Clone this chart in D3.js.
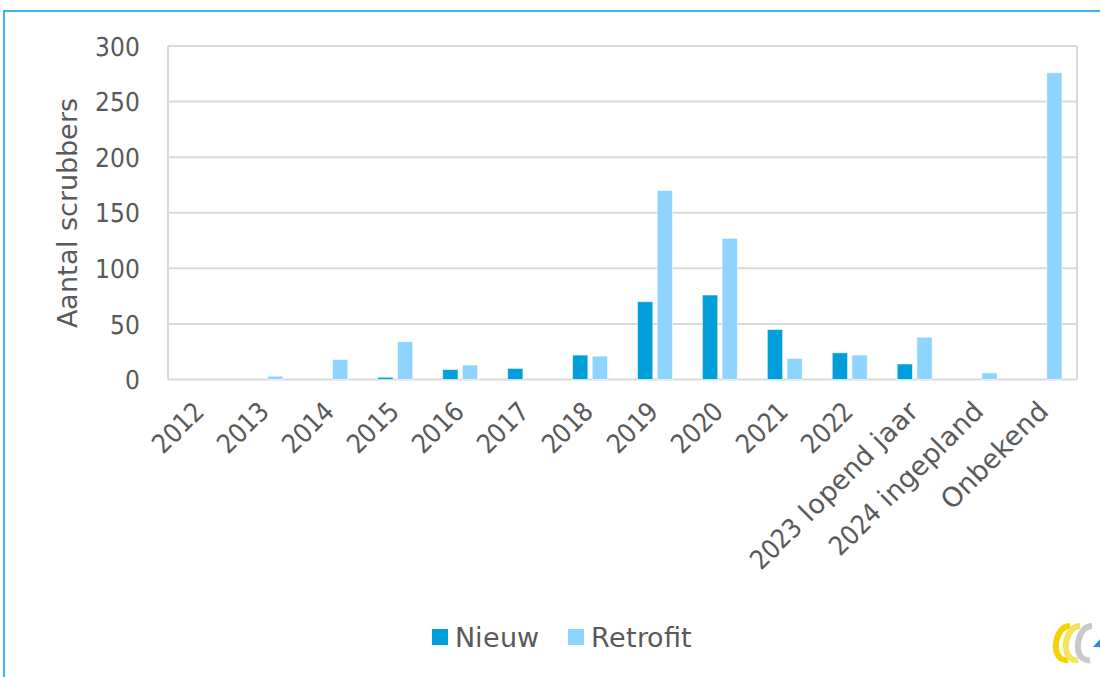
<!DOCTYPE html>
<html>
<head>
<meta charset="utf-8">
<script src="https://cdn.jsdelivr.net/npm/d3@7"></script>
<style>
  /* Tahoma-like mix: wide letters, narrow digits (later face wins for digits) */
  @font-face {
    font-family: 'ChartMix';
    src: local('DejaVu Sans'), local('DejaVuSans');
  }
  @font-face {
    font-family: 'ChartMix';
    src: local('DejaVu Sans Condensed'), local('DejaVuSansCondensed');
    unicode-range: U+0030-0039;
    size-adjust: 98%;
  }
  html, body { margin: 0; padding: 0; background: #fff; }
  svg { display: block; font-family: 'ChartMix', 'DejaVu Sans', sans-serif; }
</style>
</head>
<body>
<div id="chart"></div>
<script>
const categories = ['2012', '2013', '2014', '2015', '2016', '2017', '2018', '2019',
  '2020', '2021', '2022', '2023 lopend jaar', '2024 ingepland', 'Onbekend'];
const nieuw = [0, 0, 0, 2, 9, 10, 22, 70, 76, 45, 24, 14, 0, 0];
const retrofit = [0, 3, 18, 34, 13, 0, 21, 170, 127, 19, 22, 38, 6, 276];
const seriesNames = ['Nieuw', 'Retrofit'];
const yTicks = [0, 50, 100, 150, 200, 250, 300];

const colors = { Nieuw: '#009fda', Retrofit: '#8fd3ff' };
const textColor = '#595959';
const gridColor = '#d9d9d9';

const width = 1100;
const height = 677;
const plot = { left: 168, right: 1077, top: 46, bottom: 379.5 };

const svg = d3.select('#chart')
  .append('svg')
  .attr('width', width)
  .attr('height', height);

// outer blue frame (chart is cropped on the right/bottom)
svg.append('path')
  .attr('d', `M4,${height} L4,11 L${width},11`)
  .attr('fill', 'none')
  .attr('stroke', '#00a0e3')
  .attr('stroke-width', 1.5);

const x = d3.scaleBand()
  .domain(categories)
  .range([plot.left, plot.right]);

const y = d3.scaleLinear()
  .domain([0, 300])
  .range([plot.bottom, plot.top]);

const x1 = d3.scaleBand()
  .domain(seriesNames)
  .range([x.bandwidth() / 2 - 17.5, x.bandwidth() / 2 + 17.5])
  .paddingInner(0.22);

// gridlines
svg.append('g')
  .selectAll('line')
  .data(yTicks)
  .join('line')
  .attr('x1', plot.left)
  .attr('x2', plot.right)
  .attr('y1', d => y(d))
  .attr('y2', d => y(d))
  .attr('stroke', gridColor)
  .attr('stroke-width', 2);

// plot frame sides
svg.append('g')
  .selectAll('line')
  .data([plot.left, plot.right])
  .join('line')
  .attr('x1', d => d)
  .attr('x2', d => d)
  .attr('y1', plot.top)
  .attr('y2', plot.bottom)
  .attr('stroke', gridColor)
  .attr('stroke-width', 2);

// y tick labels
svg.append('g')
  .selectAll('text')
  .data(yTicks)
  .join('text')
  .attr('x', 140)
  .attr('y', d => y(d))
  .attr('dy', '0.36em')
  .attr('text-anchor', 'end')
  .attr('fill', textColor)
  .style('font-size', '27px')
  .text(d => d);

// y axis title
svg.append('text')
  .attr('transform', `translate(77, ${(plot.top + plot.bottom) / 2}) rotate(-90)`)
  .attr('text-anchor', 'middle')
  .attr('fill', textColor)
  .style('font-size', '27px')
  .text('Aantal scrubbers');

// bars
const rows = categories.map((c, i) => ({ cat: c, Nieuw: nieuw[i], Retrofit: retrofit[i] }));

const groups = svg.append('g')
  .selectAll('g')
  .data(rows)
  .join('g')
  .attr('transform', d => `translate(${x(d.cat)},0)`);

groups.selectAll('rect')
  .data(d => seriesNames.map(s => ({ key: s, value: d[s] })).filter(e => e.value > 0))
  .join('rect')
  .attr('x', d => x1(d.key))
  .attr('width', x1.bandwidth())
  .attr('y', d => y(d.value))
  .attr('height', d => y(0) - y(d.value))
  .attr('fill', d => colors[d.key])
  .attr('stroke', '#ffffff')
  .attr('stroke-opacity', 0.6)
  .attr('stroke-width', 1);

// category labels
svg.append('g')
  .selectAll('text')
  .data(categories)
  .join('text')
  .attr('transform', d => `translate(${x(d) + x.bandwidth() / 2 + 5}, 413) rotate(-45)`)
  .attr('text-anchor', 'end')
  .attr('fill', textColor)
  .style('font-size', '27px')
  .text(d => d);

// legend
const legend = svg.append('g')
  .attr('transform', 'translate(432, 629)');

const legendItems = legend.selectAll('g')
  .data(seriesNames)
  .join('g')
  .attr('transform', (d, i) => `translate(${i * 136}, 0)`);

legendItems.append('rect')
  .attr('width', 16)
  .attr('height', 16)
  .attr('fill', d => colors[d]);

legendItems.append('text')
  .attr('x', 23)
  .attr('y', 18)
  .attr('fill', textColor)
  .style('font-size', '27px')
  .text(d => d);

// logo, clipped at the right edge
const logo = svg.append('g')
  .attr('transform', 'translate(1072, 643)');

const arc = 'M6,-17 C-4,-17 -9,-4 -8,6 C-7,14 -2,18 4,17';
logo.selectAll('path.arc')
  .data([{ dx: -8, c: '#f2d400' }, { dx: 2, c: '#f5e35a' }, { dx: 14, c: '#c9c9c9' }])
  .join('path')
  .attr('class', 'arc')
  .attr('d', arc)
  .attr('transform', d => `translate(${d.dx},0)`)
  .attr('fill', 'none')
  .attr('stroke', d => d.c)
  .attr('stroke-width', 6);
logo.append('path')
  .attr('d', 'M21,4 L30,-6 L30,4 Z')
  .attr('fill', '#1e90d8');
</script>
</body>
</html>
